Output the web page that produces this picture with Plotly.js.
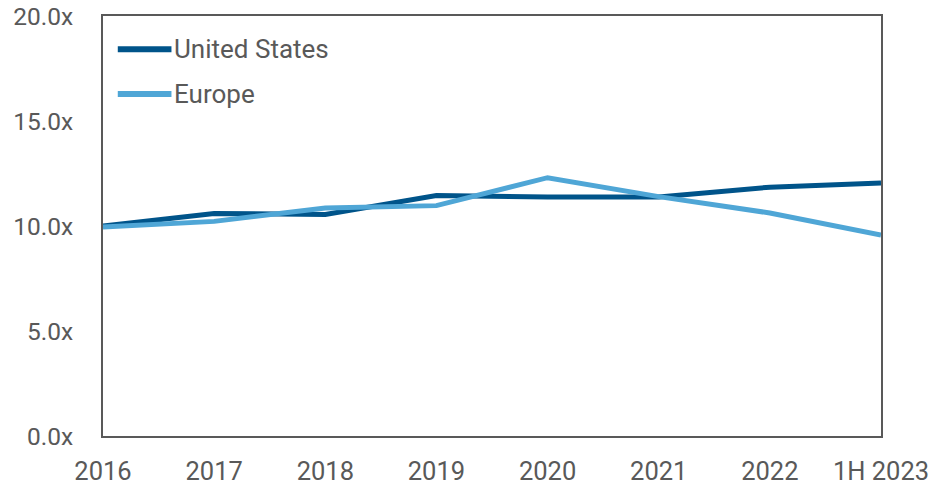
<!DOCTYPE html>
<html>
<head>
<meta charset="utf-8">
<script src="https://cdn.plot.ly/plotly-3.0.1.min.js"></script>
<style>html,body{margin:0;padding:0;background:#fff}#chart{width:934px;height:488px}</style>
</head>
<body>
<div id="chart"></div>
<script>
const categories = ["2016","2017","2018","2019","2020","2021","2022","1H 2023"];
const seriesNames = ["United States","Europe"];
const usValues = [10.0, 10.6, 10.55, 11.45, 11.38, 11.38, 11.85, 12.05];
const europeValues = [9.95, 10.22, 10.86, 10.97, 12.3, 11.4, 10.62, 9.57];
const yTickValues = [0, 5, 10, 15, 20];
const yTickLabels = ["0.0x", "5.0x", "10.0x", "15.0x", "20.0x"];

const colors = ["#00548A", "#4FA6D6"];
const fontColor = "#595959";
const fontFamily = "Roboto, 'Noto Sans', sans-serif";

const traces = [usValues, europeValues].map((vals, i) => ({
  x: categories, y: vals, type: "scatter", mode: "lines",
  name: seriesNames[i], line: {color: colors[i], width: 5}, showlegend: false
}));

// legend drawn in paper coordinates
const legendY = [0.921, 0.814];
const shapes = seriesNames.map((n, i) => ({
  type: "line", xref: "paper", yref: "paper",
  x0: 0.019, x1: 0.088, y0: legendY[i], y1: legendY[i],
  line: {color: colors[i], width: 6}
}));
const annotations = seriesNames.map((n, i) => ({
  text: n, xref: "paper", yref: "paper", x: 0.0885, y: legendY[i],
  xanchor: "left", yanchor: "middle", showarrow: false,
  font: {family: fontFamily, size: 26, color: fontColor}
}));

const layout = {
  width: 934, height: 488,
  margin: {l: 103, r: 53, t: 16, b: 52},
  paper_bgcolor: "#fff", plot_bgcolor: "#fff",
  font: {family: fontFamily, size: 24, color: fontColor},
  xaxis: {
    type: "category", range: [0, categories.length - 1],
    showline: true, mirror: true, linecolor: "#595959", linewidth: 2,
    showgrid: false, zeroline: false, ticks: "", ticklabelstandoff: 11,
    tickfont: {family: fontFamily, size: 25.5, color: fontColor}
  },
  yaxis: {
    range: [0, 20], tickmode: "array", tickvals: yTickValues, ticktext: yTickLabels,
    showline: true, mirror: true, linecolor: "#595959", linewidth: 2,
    showgrid: false, zeroline: false, ticks: "", ticklabelstandoff: 23,
    tickfont: {family: fontFamily, size: 24.5, color: fontColor}
  },
  shapes: shapes, annotations: annotations, showlegend: false
};

Plotly.newPlot("chart", traces, layout, {displayModeBar: false, staticPlot: true});
</script>
</body>
</html>
